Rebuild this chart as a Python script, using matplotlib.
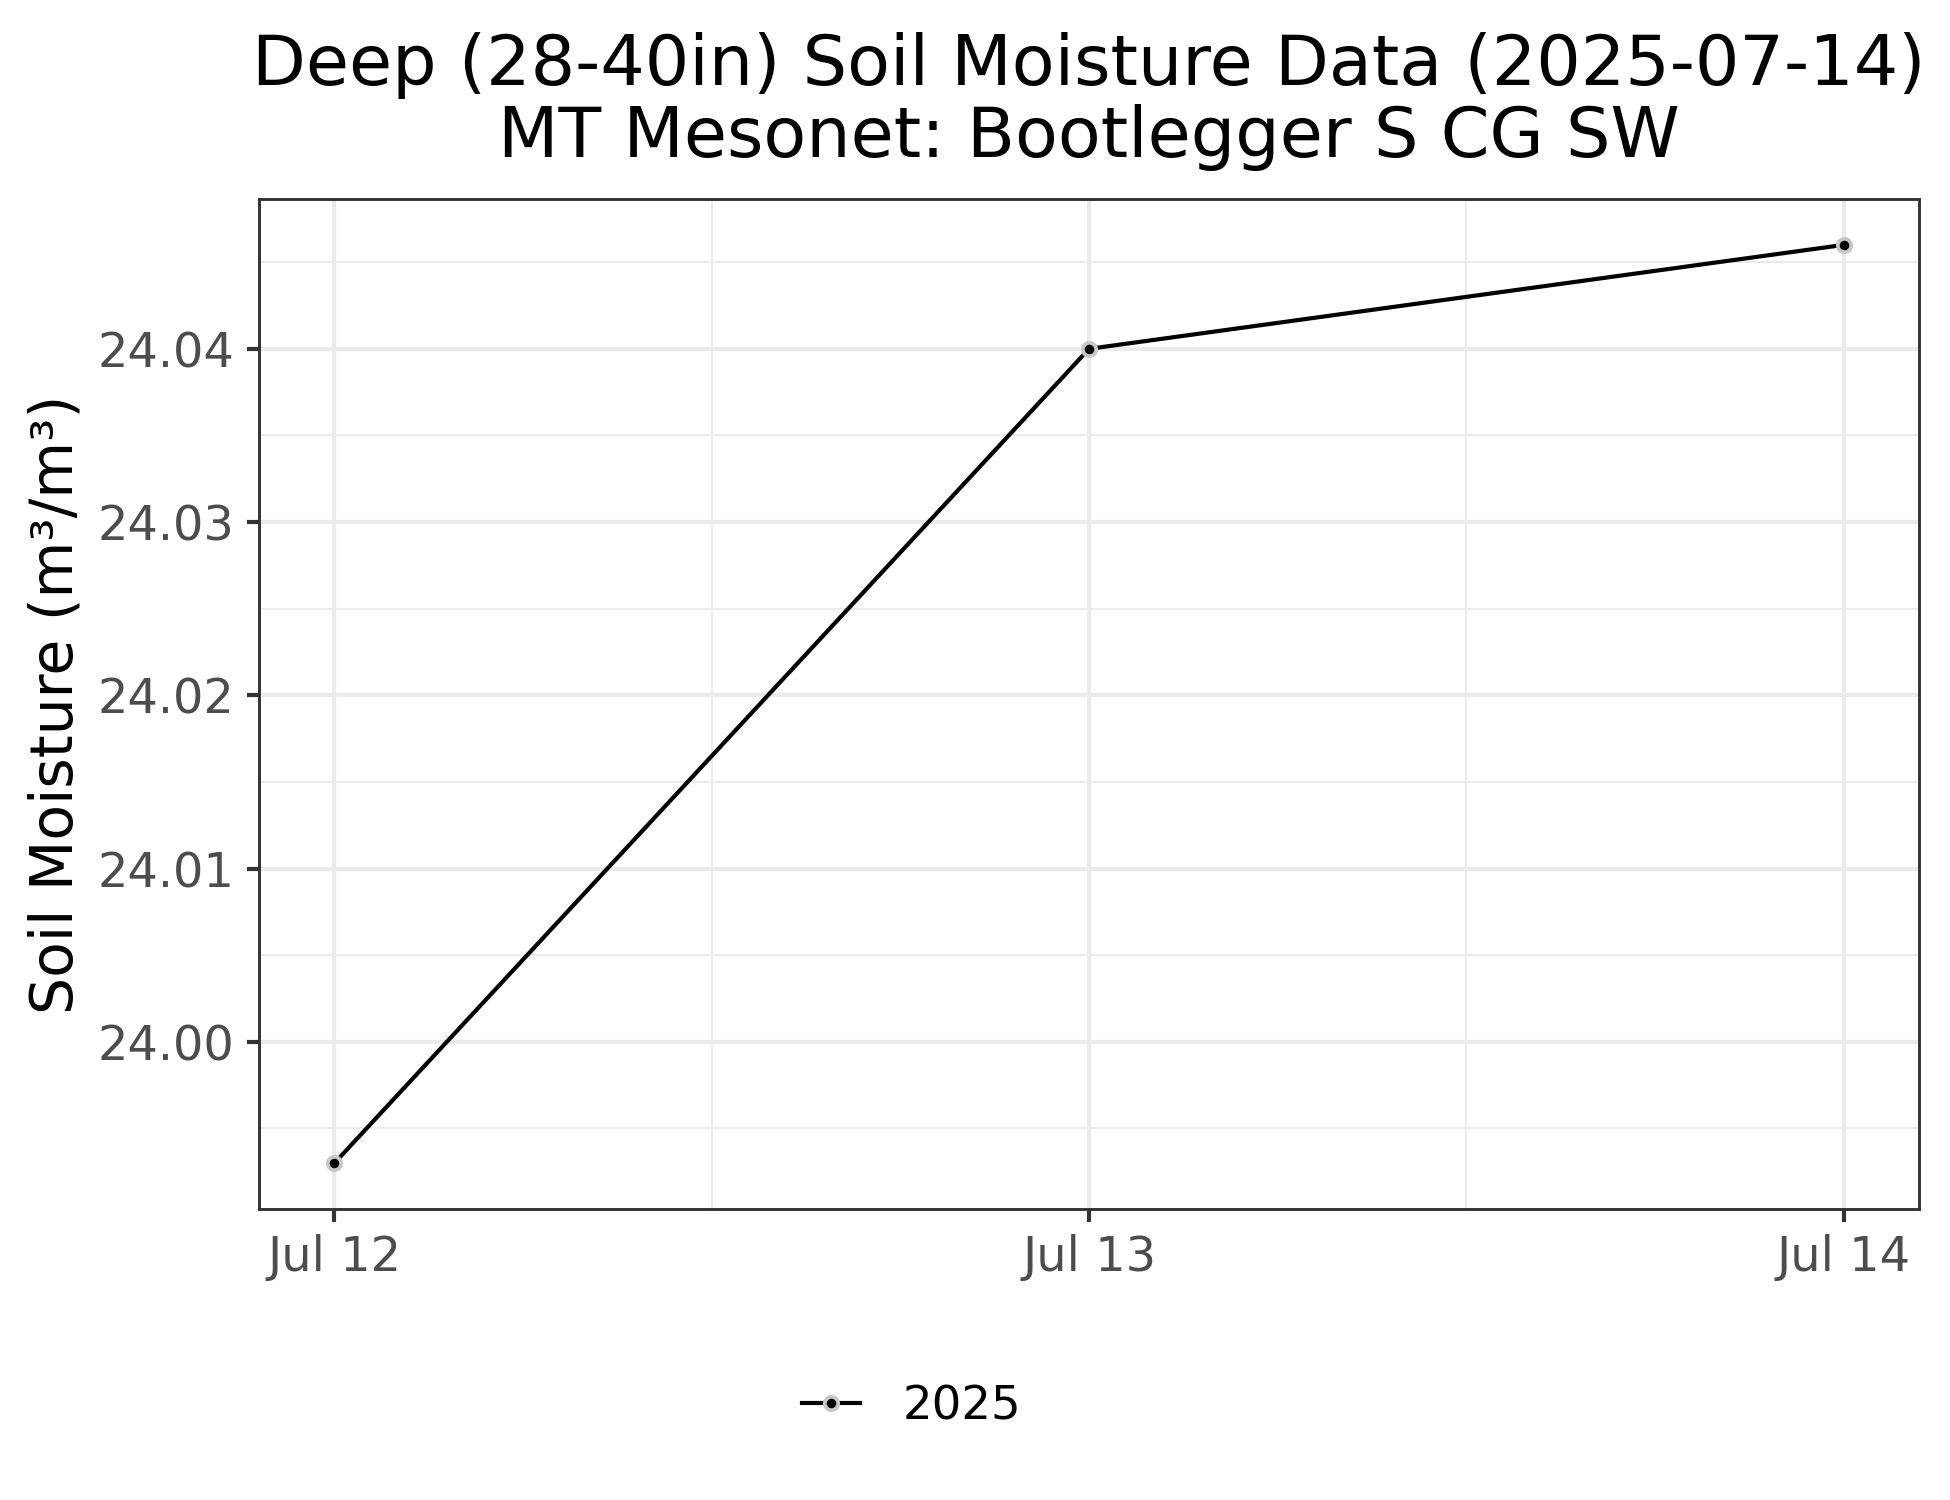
import matplotlib
matplotlib.use("Agg")
import matplotlib.pyplot as plt
import matplotlib.dates as mdates
import numpy as np
import pandas as pd

# Data
dates = pd.to_datetime(["2025-07-12", "2025-07-13", "2025-07-14"])
moisture = [23.993, 24.040, 24.046]
series_label = "2025"
yticks = [24.00, 24.01, 24.02, 24.03, 24.04]

plt.rcParams['font.family'] = ['DejaVu Sans']

fig = plt.figure(figsize=(6.5, 5), dpi=300)
ax = fig.add_axes([259 / 1950, 1 - 1209 / 1500, (1919 - 259) / 1950, (1209 - 199) / 1500])

ax.plot(dates, moisture, color='black', linewidth=1.0, marker='o',
        markersize=3.2, markerfacecolor='black', markeredgecolor='#c8c8c8',
        markeredgewidth=0.9, label=series_label, zorder=3)

ax.set_yticks(yticks)
ax.yaxis.set_major_formatter(matplotlib.ticker.FormatStrFormatter('%.2f'))
ax.set_yticks([23.995, 24.005, 24.015, 24.025, 24.035, 24.045], minor=True)
ax.set_xticks(dates)
ax.xaxis.set_major_formatter(mdates.DateFormatter('%b %d'))
ax.set_xticks(dates[:-1] + pd.Timedelta(hours=12), minor=True)
ax.margins(x=0.05, y=0.05)

ax.grid(True, which='major', color='#ebebeb', linewidth=1.0)
ax.grid(True, which='minor', color='#ebebeb', linewidth=0.5)
ax.set_axisbelow(True)
ax.tick_params(which='minor', length=0)
ax.tick_params(which='major', length=3, width=1.0, color='#333333',
               labelsize=11.5, labelcolor='#4d4d4d', pad=3)
for s in ax.spines.values():
    s.set_color('#333333')
    s.set_linewidth(0.7)

ax.set_ylabel('Soil Moisture (m³/m³)', fontsize=14, labelpad=3)
ax.set_title('Deep (28-40in) Soil Moisture Data (2025-07-14)\nMT Mesonet: Bootlegger S CG SW',
             fontsize=16.8, linespacing=1.1, pad=10)

fig.legend(loc='center', bbox_to_anchor=(733 * 1.2436 / 1950, 1 - 1131 * 1.2436 / 1500),
           frameon=False, fontsize=11.2, handlelength=1.25, handletextpad=0.9)

fig.savefig('out.png', dpi=300)
